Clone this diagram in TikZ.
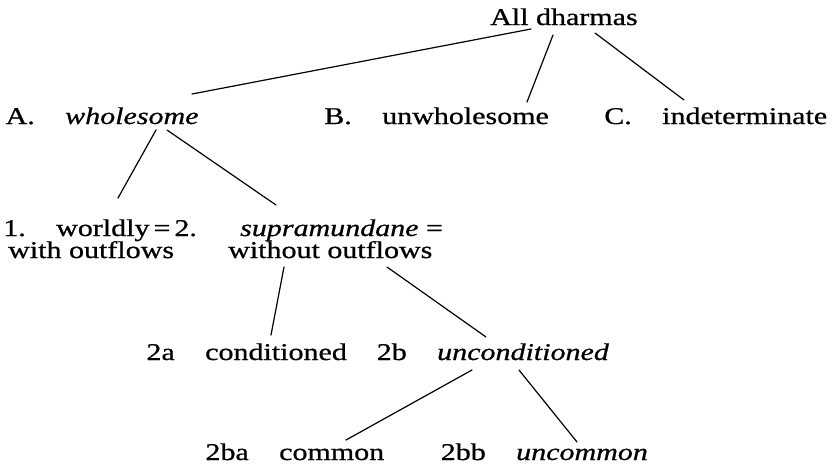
\documentclass[tikz,border=0pt]{standalone}
\usepackage{fontspec}
\setmainfont{Liberation Serif}[FakeStretch=1.25, FakeBold=0.8]
\usetikzlibrary{positioning}

\begin{document}
\begin{tikzpicture}[
  x=1pt, y=-1pt,
  font=\fontsize{24}{28}\selectfont,
  term/.style={anchor=base west, inner sep=0pt},
  tag/.style={inner sep=0pt},
  edge/.style={line width=1.2pt, line cap=round},
  node distance=30pt,
]
\useasboundingbox (0,0) rectangle (837,467);
% root
\node[term] (all) at (490,25) {All dharmas};
% three classes
\node[term] (whole) at (65,124) {\itshape wholesome};
\node[tag, base left=of whole] (tA) {A.};
\node[term] (unwh) at (382,124) {unwholesome};
\node[tag, base left=of unwh] (tB) {B.};
\node[term] (indet) at (662,124) {indeterminate};
\node[tag, base left=of indet] (tC) {C.};
% wholesome split
\node[term] (world) at (56,236) {worldly\thinspace=\thinspace2.};
\node[tag, base left=of world] (t1) {1.};
\node[term] (supra) at (240,236) {\textit{supramundane} =};
\node[term] (with) at (8,258) {with outflows};
\node[term] (without) at (228,258) {without outflows};
% supramundane split
\node[term] (cond) at (205,360) {conditioned};
\node[tag, base left=of cond] (t2a) {2a};
\node[term] (uncond) at (437,360) {\itshape unconditioned};
\node[tag, base left=of uncond] (t2b) {2b};
% unconditioned split
\node[term] (common) at (279,460) {common};
\node[tag, base left=of common] (t2ba) {2ba};
\node[term] (uncommon) at (516,460) {\itshape uncommon};
\node[tag, base left=of uncommon] (t2bb) {2bb};

\draw[edge] ([shift={(41,4)}]all.base west) -- ([shift={(127,-30)}]whole.base west);
\draw[edge] ([shift={(63,10)}]all.base west) -- ([shift={(145,-22)}]unwh.base west);
\draw[edge] ([shift={(105,8)}]all.base west) -- ([shift={(22,-24)}]indet.base west);
\draw[edge] ([shift={(91,6)}]whole.base west) -- ([shift={(62,-38)}]world.base west);
\draw[edge] ([shift={(102,6)}]whole.base west) -- ([shift={(36,-31)}]supra.base west);
\draw[edge] ([shift={(56,9)}]without.base west) -- ([shift={(66,-25)}]cond.base west);
\draw[edge] ([shift={(159,9)}]without.base west) -- ([shift={(49,-23)}]uncond.base west);
\draw[edge] ([shift={(35,10)}]uncond.base west) -- ([shift={(67,-20)}]common.base west);
\draw[edge] ([shift={(82,10)}]uncond.base west) -- ([shift={(61,-18)}]uncommon.base west);
\end{tikzpicture}
\end{document}
